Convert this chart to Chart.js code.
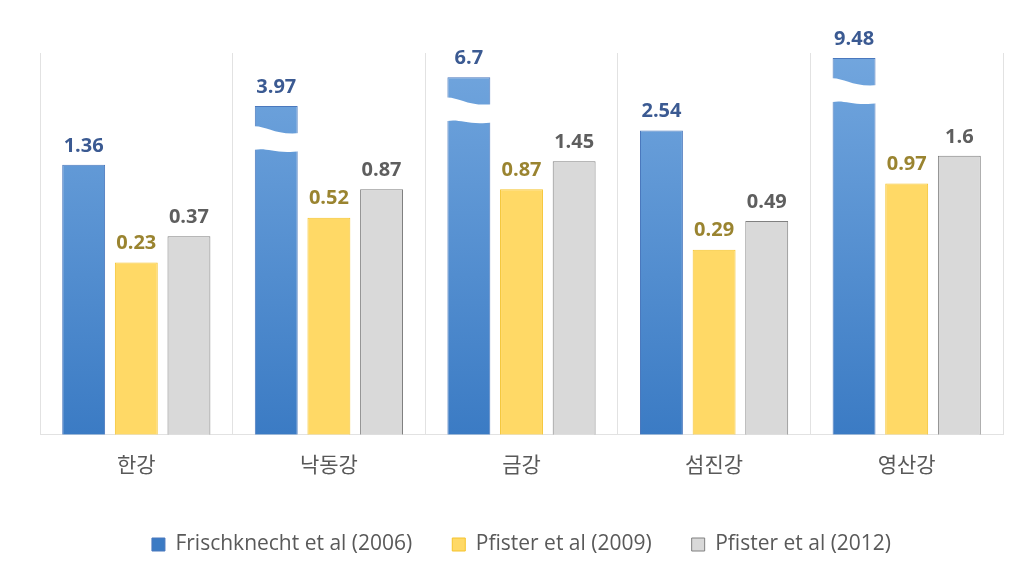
<!DOCTYPE html>
<html>
<head>
<meta charset="utf-8">
<script src="https://cdn.jsdelivr.net/npm/chart.js@4"></script>
<style>
  html, body { margin: 0; padding: 0; background: #fff; }
  #wrap { width: 1033px; height: 576px; }
</style>
</head>
<body>
<div id="wrap"><canvas id="riverChart" width="1033" height="576"></canvas></div>
<script>
const rivers = ['한강', '낙동강', '금강', '섬진강', '영산강'];
const frischknecht2006 = [1.36, 3.97, 6.7, 2.54, 9.48];
const pfister2009 = [0.23, 0.52, 0.87, 0.29, 0.97];
const pfister2012 = [0.37, 0.87, 1.45, 0.49, 1.6];
// bars that carry a break mark in the original figure
const brokenBars = [1, 2, 4];

const labelColors = ['#3b5a92', '#9a8430', '#5e5e5e'];

function blueGradient(context) {
    const chart = context.chart;
    const area = chart.chartArea;
    if (!area) return '#5b93d3';
    const g = chart.ctx.createLinearGradient(0, area.top, 0, area.bottom);
    g.addColorStop(0, '#72a6de');
    g.addColorStop(1, '#3b7bc4');
    return g;
}

// value labels above each bar
const valueLabels = {
    id: 'valueLabels',
    afterDatasetsDraw(chart) {
        const ctx = chart.ctx;
        ctx.save();
        ctx.font = 'bold 20px "Open Sans", sans-serif';
        ctx.textAlign = 'center';
        ctx.textBaseline = 'bottom';
        chart.data.datasets.forEach(function (ds, i) {
            const meta = chart.getDatasetMeta(i);
            ctx.fillStyle = labelColors[i];
            meta.data.forEach(function (bar, j) {
                ctx.fillText(String(ds.data[j]), bar.x, bar.y - 9);
            });
        });
        ctx.restore();
    }
};

// white wavy break across the tall blue bars
const breakMarks = {
    id: 'breakMarks',
    afterDatasetsDraw(chart) {
        const ctx = chart.ctx;
        const meta = chart.getDatasetMeta(0);
        ctx.save();
        ctx.fillStyle = '#ffffff';
        brokenBars.forEach(function (j) {
            const bar = meta.data[j];
            const half = bar.width / 2;
            const x0 = bar.x - half - 6;
            const x1 = bar.x + half + 3;
            const y0 = bar.y + 21;
            const w = x1 - x0;
            ctx.beginPath();
            ctx.moveTo(x0, y0);
            ctx.bezierCurveTo(x0 + w * 0.3, y0 - 4, x0 + w * 0.45, y0 + 9, x1, y0 + 6);
            ctx.lineTo(x1, y0 + 24);
            ctx.bezierCurveTo(x0 + w * 0.45, y0 + 28, x0 + w * 0.3, y0 + 18, x0, y0 + 25);
            ctx.closePath();
            ctx.fill();
        });
        ctx.restore();
    }
};

const ctx = document.getElementById('riverChart').getContext('2d');
const myChart = new Chart(ctx, {
    type: 'bar',
    data: {
        labels: rivers,
        datasets: [{
            label: 'Frischknecht et al (2006)',
            data: frischknecht2006,
            backgroundColor: blueGradient,
            borderColor: '#4a78bd',
            borderWidth: 1
        }, {
            label: 'Pfister et al (2009)',
            data: pfister2009,
            backgroundColor: '#ffd966',
            borderColor: '#f5c32c',
            borderWidth: 1
        }, {
            label: 'Pfister et al (2012)',
            data: pfister2012,
            backgroundColor: '#d9d9d9',
            borderColor: '#808080',
            borderWidth: 1
        }]
    },
    options: {
        responsive: false,
        animation: false,
        devicePixelRatio: 1,
        categoryPercentage: 0.82,
        barPercentage: 0.815,
        layout: {
            padding: { left: 40, right: 30, top: 53, bottom: 11 }
        },
        scales: {
            x: {
                offset: true,
                grid: {
                    offset: true,
                    color: '#e2e2e2',
                    drawTicks: false
                },
                border: { color: '#e2e2e2' },
                ticks: {
                    color: '#595959',
                    padding: 17,
                    font: { family: '"Noto Sans CJK KR", sans-serif', size: 21 }
                }
            },
            y: {
                type: 'logarithmic',
                display: false,
                min: 0.01,
                max: 10.4
            }
        },
        plugins: {
            legend: {
                position: 'bottom',
                labels: {
                    color: '#595959',
                    boxWidth: 13,
                    boxHeight: 13,
                    padding: 40,
                    font: { family: '"Open Sans", sans-serif', size: 21 }
                }
            },
            tooltip: { enabled: false }
        }
    },
    plugins: [breakMarks, valueLabels]
});
</script>
</body>
</html>
